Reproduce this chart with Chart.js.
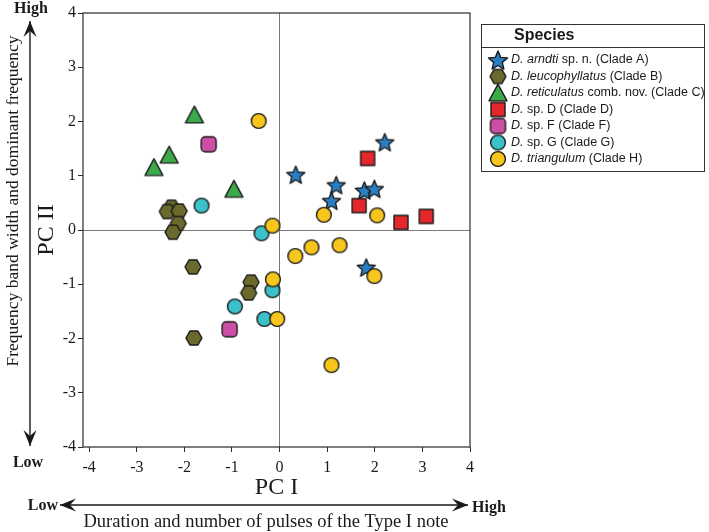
<!DOCTYPE html>
<html>
<head>
<meta charset="utf-8">
<script src="https://cdn.jsdelivr.net/npm/chart.js@4"></script>
<style>
  body { margin: 0; background: #fff; }
  #wrap { width: 709px; height: 532px; }
</style>
</head>
<body>
<div id="wrap"><canvas id="pca" width="709" height="532"></canvas></div>
<script>
// PCA scores per clade, [PC I, PC II]
const cladeA = [[2.21, 1.62], [0.34, 1.02], [1.19, 0.83], [1.78, 0.73], [1.99, 0.76], [1.09, 0.54], [1.82, -0.69]];
const cladeB = [[-2.27, 0.42], [-2.36, 0.34], [-2.11, 0.35], [-2.13, 0.12], [-2.24, -0.04], [-1.82, -0.68], [-0.60, -0.96], [-0.65, -1.16], [-1.80, -1.99]];
const cladeC = [[-1.79, 2.12], [-2.32, 1.38], [-2.64, 1.15], [-0.96, 0.75]];
const cladeD = [[1.85, 1.32], [1.67, 0.45], [2.55, 0.14], [3.08, 0.25]];
const cladeF = [[-1.49, 1.58], [-1.05, -1.83]];
const cladeG = [[-1.64, 0.45], [-0.38, -0.06], [-0.15, -1.11], [-0.94, -1.41], [-0.32, -1.64]];
const cladeH = [[-0.44, 2.01], [-0.15, 0.08], [0.93, 0.28], [2.05, 0.27], [0.33, -0.48], [0.67, -0.32], [1.26, -0.28], [1.99, -0.85], [-0.14, -0.91], [-0.05, -1.64], [1.09, -2.49]];

const speciesItalic = ['D. arndti', 'D. leucophyllatus', 'D. reticulatus', 'D.', 'D.', 'D.', 'D. triangulum'];
const speciesRest = [' sp. n. (Clade A)', ' (Clade B)', ' comb. nov. (Clade C)', ' sp. D (Clade D)', ' sp. F (Clade F)', ' sp. G (Clade G)', ' (Clade H)'];
const xTicks = [-4, -3, -2, -1, 0, 1, 2, 3, 4];
const yTicks = [-4, -3, -2, -1, 0, 1, 2, 3, 4];

const series = [cladeA, cladeB, cladeC, cladeD, cladeF, cladeG, cladeH];
const shapes = ['star', 'hexagon', 'triangle', 'square', 'rounded', 'circle', 'circle'];
const fills = ['#2a7fc2', '#6b6a2c', '#3caa4a', '#e3272a', '#cc4fa5', '#3cc0c9', '#f6c61d'];
const sizes = { star: 19, hexagon: 16, triangle: 18, square: 14, rounded: 15, circle: 16 };
const legendSizes = { star: 20, hexagon: 16, triangle: 18, square: 14, rounded: 15, circle: 16 };

function marker(shape, fill, size) {
    const c = document.createElement('canvas');
    c.width = c.height = size + 4;
    const g = c.getContext('2d');
    const m = c.width / 2, r = size / 2;
    g.fillStyle = fill;
    g.strokeStyle = '#1b1b1b';
    g.lineWidth = 1.4;
    g.lineJoin = 'round';
    g.beginPath();
    if (shape === 'circle') {
        g.arc(m, m, r - 0.6, 0, Math.PI * 2);
    } else if (shape === 'star') {
        for (let i = 0; i < 10; i++) {
            const rr = i % 2 ? r * 0.45 : r;
            const a = -Math.PI / 2 + i * Math.PI / 5;
            g.lineTo(m + rr * Math.cos(a), m + 1 + rr * Math.sin(a));
        }
        g.closePath();
    } else if (shape === 'hexagon') {
        for (let i = 0; i < 6; i++) {
            const a = i * Math.PI / 3;
            g.lineTo(m + r * Math.cos(a), m + r * Math.sin(a));
        }
        g.closePath();
    } else if (shape === 'triangle') {
        const h = size * 0.87;
        g.moveTo(m, m - h / 2 - 1);
        g.lineTo(m + r, m + h / 2);
        g.lineTo(m - r, m + h / 2);
        g.closePath();
    } else if (shape === 'square') {
        g.rect(m - r, m - r, size, size);
    } else if (shape === 'rounded') {
        g.roundRect(m - r, m - r, size, size, 4);
    }
    g.fill();
    g.stroke();
    return c;
}

const legendIcons = shapes.map((s, i) => marker(s, fills[i], legendSizes[s]));

const datasets = series.map((pts, i) => ({
    label: speciesItalic[i] + speciesRest[i],
    data: pts.map(p => ({ x: p[0], y: p[1] })),
    pointStyle: marker(shapes[i], fills[i], sizes[shapes[i]]),
    order: series.length - i
}));

const serif = 'Liberation Serif';

const frameAndNotes = {
    id: 'frameAndNotes',
    afterDraw(chart) {
        const { ctx, chartArea: a } = chart;
        ctx.save();
        ctx.strokeStyle = '#2b2b2b';
        ctx.lineWidth = 1.2;
        ctx.strokeRect(a.left, a.top, a.right - a.left, a.bottom - a.top);

        ctx.fillStyle = '#1a1a1a';
        ctx.strokeStyle = '#1a1a1a';

        const arrow = (x1, y1, x2, y2) => {
            ctx.lineWidth = 1.4;
            ctx.beginPath();
            ctx.moveTo(x1, y1);
            ctx.lineTo(x2, y2);
            ctx.stroke();
            [[x1, y1, x2, y2], [x2, y2, x1, y1]].forEach(([tx, ty, fx, fy]) => {
                const ang = Math.atan2(ty - fy, tx - fx);
                const c = Math.cos(ang), s = Math.sin(ang);
                ctx.beginPath();
                ctx.moveTo(tx, ty);
                ctx.lineTo(tx - 16 * c + 6.5 * s, ty - 16 * s - 6.5 * c);
                ctx.lineTo(tx - 10 * c, ty - 10 * s);
                ctx.lineTo(tx - 16 * c - 6.5 * s, ty - 16 * s + 6.5 * c);
                ctx.closePath();
                ctx.fill();
            });
        };
        arrow(30, 21, 30, 446);
        arrow(60, 505, 468, 505);

        ctx.textBaseline = 'middle';
        ctx.font = 'bold 16px "' + serif + '"';
        ctx.textAlign = 'center';
        ctx.fillText('High', 31, 9);
        ctx.fillText('Low', 28, 463);
        ctx.textAlign = 'right';
        ctx.fillText('Low', 58, 506);
        ctx.textAlign = 'left';
        ctx.fillText('High', 472, 508);

        ctx.font = '18.5px "' + serif + '"';
        ctx.textAlign = 'center';
        ctx.fillText('Duration and number of pulses of the Type I note', 266, 522);
        ctx.font = '17.5px "' + serif + '"';
        ctx.save();
        ctx.translate(13, 201);
        ctx.rotate(-Math.PI / 2);
        ctx.fillText('Frequency band width and dominant frequency', 0, 0);
        ctx.restore();
        ctx.restore();
    }
};

const speciesLegend = {
    id: 'speciesLegend',
    afterDraw(chart) {
        const ctx = chart.ctx;
        const box = { x: 481.5, y: 24.5, w: 223, h: 147 };
        ctx.save();
        ctx.strokeStyle = '#333';
        ctx.lineWidth = 1;
        ctx.strokeRect(box.x, box.y, box.w, box.h);
        ctx.beginPath();
        ctx.moveTo(box.x, 47.5);
        ctx.lineTo(box.x + box.w, 47.5);
        ctx.stroke();

        ctx.fillStyle = '#1a1a1a';
        ctx.textBaseline = 'middle';
        ctx.font = 'bold 16px "Liberation Sans"';
        ctx.fillText('Species', 514, 36);

        speciesItalic.forEach((it, i) => {
            const y = 60 + i * 16.5;
            const icon = legendIcons[i];
            ctx.drawImage(icon, 498 - icon.width / 2, y - icon.height / 2);
            ctx.font = 'italic 12.5px "Liberation Sans"';
            ctx.fillText(it, 511, y);
            const w = ctx.measureText(it).width;
            ctx.font = '12.5px "Liberation Sans"';
            ctx.fillText(speciesRest[i], 511 + w, y);
        });
        ctx.restore();
    }
};

const tickFont = { family: serif, size: 16 };

new Chart(document.getElementById('pca'), {
    type: 'scatter',
    data: { datasets },
    options: {
        responsive: false,
        animation: false,
        events: [],
        layout: { padding: { left: 0, top: 13, right: 239, bottom: 0 } },
        plugins: { legend: { display: false }, tooltip: { enabled: false } },
        scales: {
            x: {
                min: -4.13,
                max: 4,
                afterBuildTicks: s => { s.ticks = xTicks.map(v => ({ value: v })); },
                afterFit: s => { s.height = 85; },
                border: { display: false },
                grid: {
                    color: c => (c.tick && c.tick.value === 0 ? '#7a7a7a' : 'rgba(0,0,0,0)'),
                    tickColor: '#2b2b2b',
                    tickLength: 5,
                    lineWidth: 1
                },
                ticks: { font: tickFont, color: '#1a1a1a', padding: 6 },
                title: { display: true, text: 'PC I', font: { family: serif, size: 24 }, color: '#1a1a1a', padding: { top: 0, bottom: 30 } }
            },
            y: {
                min: -4,
                max: 4,
                afterBuildTicks: s => { s.ticks = yTicks.map(v => ({ value: v })); },
                afterFit: s => { s.width = 83; },
                border: { display: false },
                grid: {
                    color: c => (c.tick && c.tick.value === 0 ? '#7a7a7a' : 'rgba(0,0,0,0)'),
                    tickColor: '#2b2b2b',
                    tickLength: 5,
                    lineWidth: 1
                },
                ticks: { font: tickFont, color: '#1a1a1a', padding: 2 },
                title: { display: true, text: 'PC II', font: { family: serif, size: 24 }, color: '#1a1a1a', padding: { top: 32, bottom: 0 } }
            }
        }
    },
    plugins: [frameAndNotes, speciesLegend]
});
</script>
</body>
</html>
